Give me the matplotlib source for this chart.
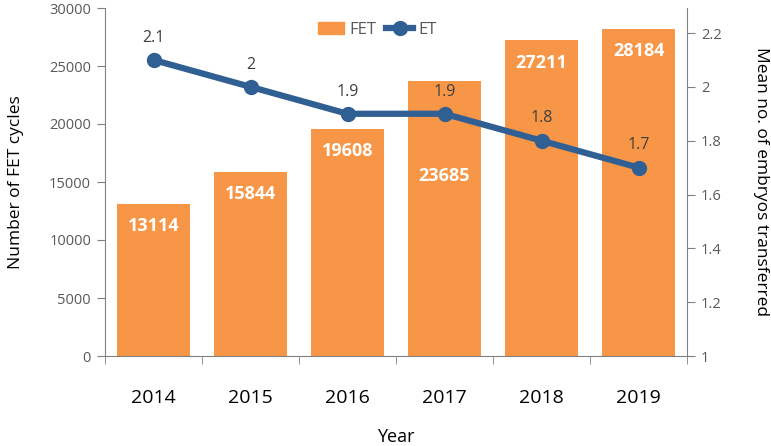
import matplotlib
matplotlib.use("Agg")
import matplotlib.pyplot as plt
from matplotlib.lines import Line2D
from matplotlib.patches import Patch

years = ["2014", "2015", "2016", "2017", "2018", "2019"]
fet_cycles = [13114, 15844, 19608, 23685, 27211, 28184]
mean_et = [2.1, 2.0, 1.9, 1.9, 1.8, 1.7]
et_labels = ["2.1", "2", "1.9", "1.9", "1.8", "1.7"]
left_ticks = [0, 5000, 10000, 15000, 20000, 25000, 30000]
right_ticks = [1, 1.2, 1.4, 1.6, 1.8, 2, 2.2]
right_tick_labels = ["1", "1.2", "1.4", "1.6", "1.8", "2", "2.2"]

plt.rcParams['font.family'] = ['Open Sans', 'DejaVu Sans']

BAR = "#F79646"
LINE = "#2F5F93"
GRAY = "#595959"

fig = plt.figure(figsize=(7.71, 4.46), dpi=100)
ax = fig.add_axes([105/771, 1-356/446, (687-105)/771, (356-8)/446])
x = list(range(len(years)))
bars = ax.bar(x, fet_cycles, width=0.76, color=BAR, zorder=2)
ax.set_xlim(-0.5, 5.5)
ax.set_ylim(0, 30000)
ax.set_yticks(left_ticks)
ax.set_yticklabels([str(t) for t in left_ticks], color=GRAY, fontsize=10.5)
ax.set_xticks(x)
ax.set_xticklabels(years, fontsize=14, color="black")
ax.tick_params(axis='x', length=0, pad=24)
ax.set_xticks([i - 0.5 for i in range(len(years) + 1)], minor=True)
ax.tick_params(axis='x', which='minor', length=6, color="#808080", direction='out')
ax.tick_params(axis='y', length=6, color="#808080", direction='out', pad=4)
for s in ['top', 'right']:
    ax.spines[s].set_visible(False)
for s in ['left', 'bottom']:
    ax.spines[s].set_color("#808080")
ax.set_ylabel("Number of FET cycles", fontsize=12.5, color="black", labelpad=18)
ax.set_xlabel("Year", fontsize=13, color="black", labelpad=15)

# the 2017 label sits lower in the bar to clear the line
label_offsets = {3: -68}
for xi, v in zip(x, fet_cycles):
    ax.annotate(str(v), (xi, v), xytext=(0, label_offsets.get(xi, -16)), textcoords='offset points',
                ha='center', va='center', color='white', fontsize=13, fontweight='bold')

ax2 = ax.twinx()
ax2.set_ylim(1, 2.293)
ax2.plot(x, mean_et, color=LINE, linewidth=4.5, marker='o', markersize=10, zorder=3)
ax2.set_yticks(right_ticks)
ax2.set_yticklabels(right_tick_labels, color=GRAY, fontsize=10.5)
ax2.tick_params(axis='y', length=6, color="#808080", direction='out', pad=4)
for s in ['top', 'left', 'bottom']:
    ax2.spines[s].set_visible(False)
ax2.spines['right'].set_color("#808080")
ax2.set_ylabel("Mean no. of embryos transferred", fontsize=12.5, color="black",
               rotation=270, labelpad=34)
for xi, v, lab in zip(x, mean_et, et_labels):
    ax2.annotate(lab, (xi, v), xytext=(0, 16), textcoords='offset points',
                 ha='center', va='center', color="#404040", fontsize=11.5)

handles = [Patch(color=BAR, label="FET"),
           Line2D([0], [0], color=LINE, linewidth=4.5, marker='o', markersize=10, label="ET")]
leg = fig.legend(handles=handles, loc='center', bbox_to_anchor=(377/771, 1-30/446), ncol=2,
                 frameon=False, fontsize=12, handlelength=1.6, columnspacing=0.6,
                 handletextpad=0.3)
for t in leg.get_texts():
    t.set_color(GRAY)

fig.savefig("out.png", dpi=100)
